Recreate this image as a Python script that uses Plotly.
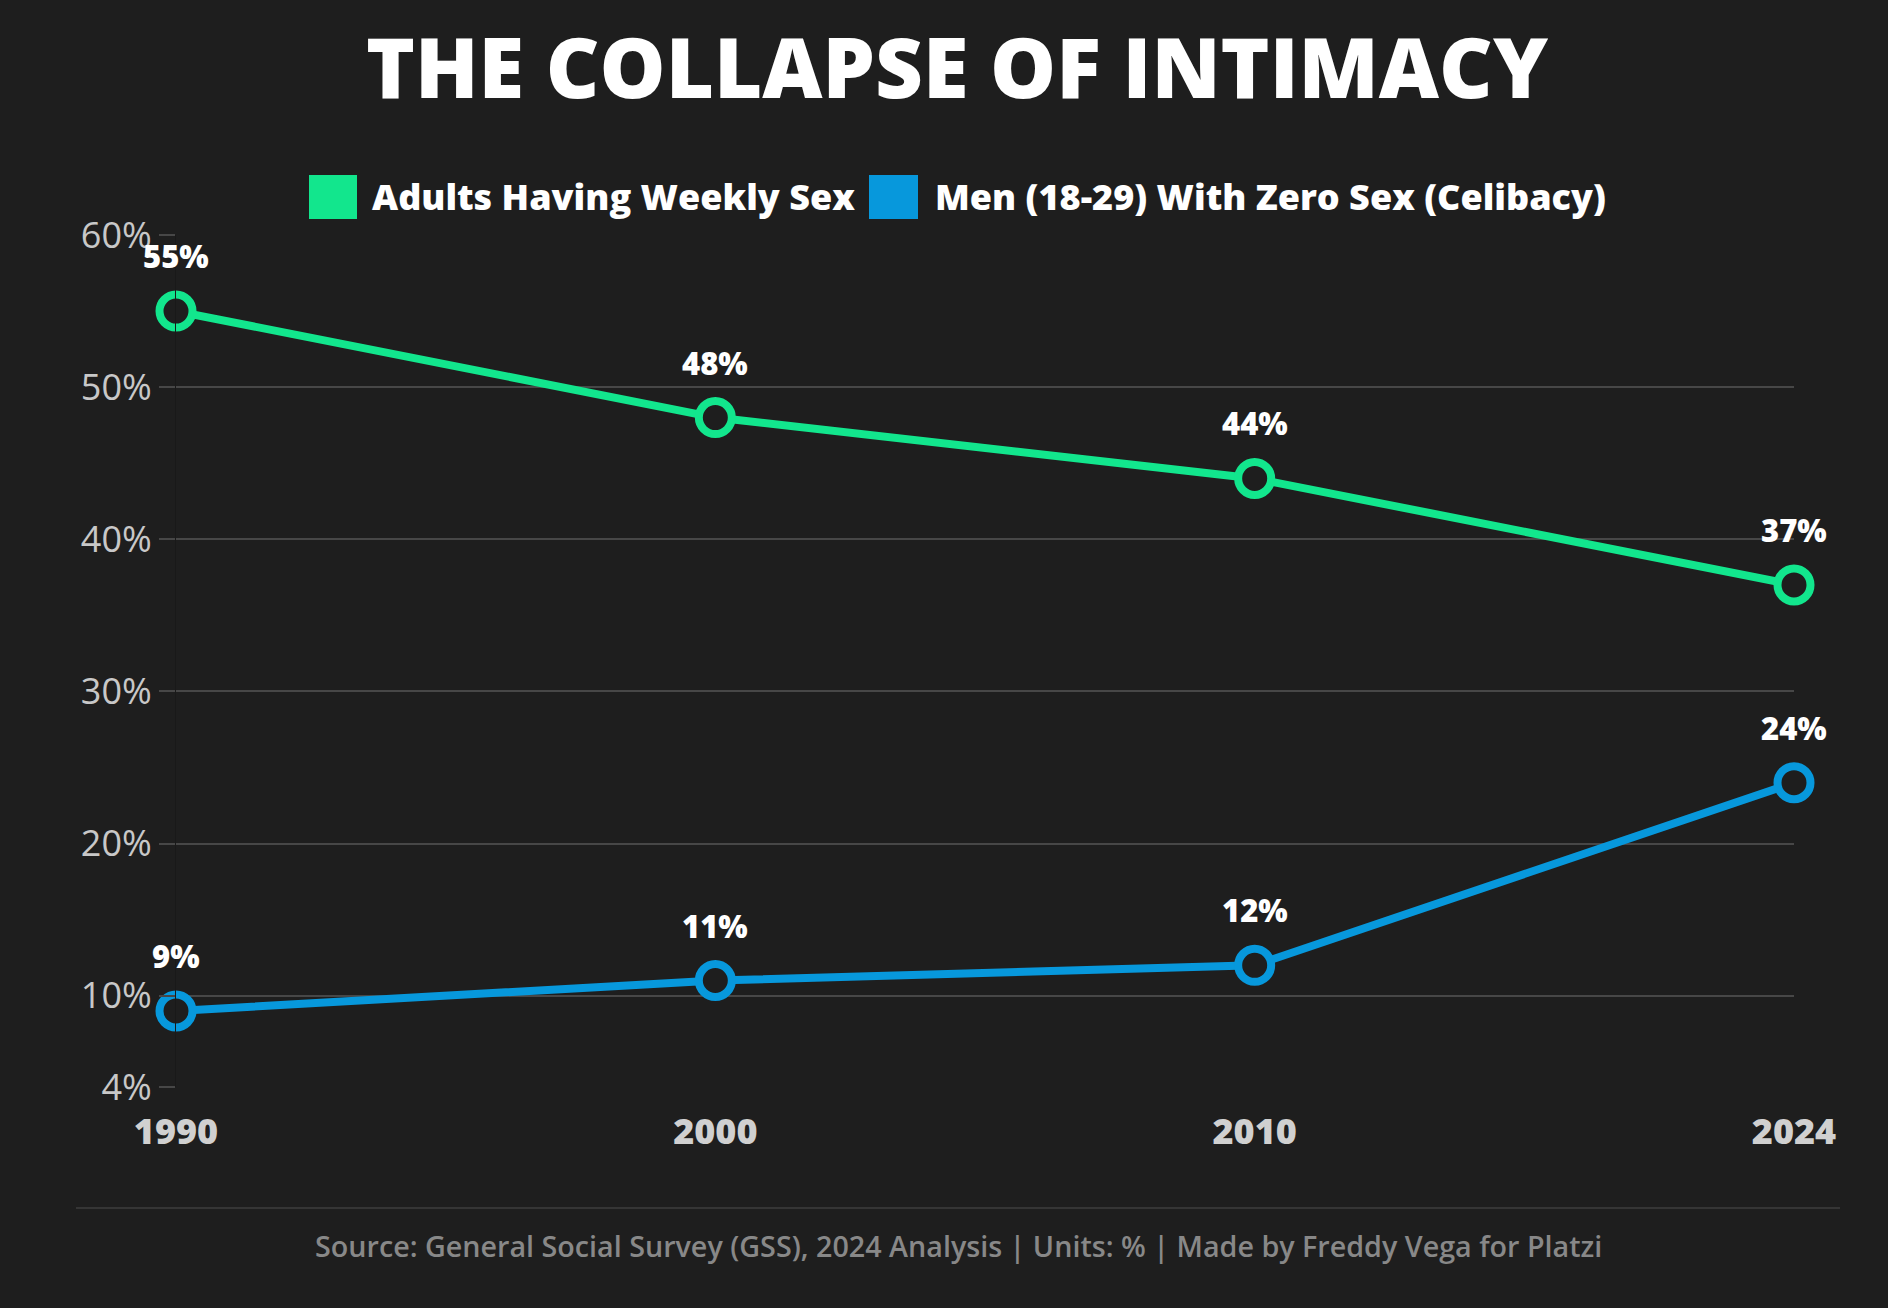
import plotly.graph_objects as go

# ---- data ----
years = ["1990", "2000", "2010", "2024"]
weekly_sex = [55, 48, 44, 37]
celibacy_men = [9, 11, 12, 24]
series_names = ["Adults Having Weekly Sex", "Men (18-29) With Zero Sex (Celibacy)"]
series_colors = ["#12E68D", "#0798DC"]
y_ticks = [4, 10, 20, 30, 40, 50, 60]
y_tick_text = ["4%", "10%", "20%", "30%", "40%", "50%", "60%"]

title_text = "THE COLLAPSE OF INTIMACY"
footer_text = "Source: General Social Survey (GSS), 2024 Analysis | Units: % | Made by Freddy Vega for Platzi"

W, H = 1888, 1308
PL, PR, PT, PB = 176, 94, 235, 221
plot_w = W - PL - PR
plot_h = H - PT - PB


def px_x(x):
    return (x - PL) / plot_w


def px_y(y):
    return (H - PB - y) / plot_h


BG = "#1E1E1E"
FONT = "Open Sans"

fig = go.Figure()
for vals, name, col in zip([weekly_sex, celibacy_men], series_names, series_colors):
    fig.add_trace(go.Scatter(
        x=years, y=vals, name=name, mode="lines+markers",
        line=dict(color=col, width=8),
        marker=dict(size=33, color=BG, line=dict(color=col, width=8)),
        showlegend=False, cliponaxis=False,
    ))
    for i, yv in enumerate(vals):
        fig.add_annotation(
            x=i, y=yv, xref="x", yref="y", text=f"{yv}%", showarrow=False, yshift=55,
            font=dict(family=FONT, size=31, color="#FFFFFF", weight=800),
        )

# custom legend (square swatches)
legend_items = [(309, 357, 370), (869, 918, 933)]
for (sx0, sx1, tx), name, col in zip(legend_items, series_names, series_colors):
    fig.add_shape(type="rect", xref="paper", yref="paper",
                  x0=px_x(sx0), x1=px_x(sx1), y0=px_y(219), y1=px_y(175),
                  fillcolor=col, line=dict(width=0))
    fig.add_annotation(xref="paper", yref="paper", x=px_x(tx), y=px_y(197),
                       xanchor="left", yanchor="middle", text=name, showarrow=False,
                       font=dict(family=FONT, size=36, color="#FFFFFF", weight=800))

# footer separator and source
fig.add_shape(type="line", xref="paper", yref="paper",
              x0=px_x(76), x1=px_x(1840), y0=px_y(1208), y1=px_y(1208),
              line=dict(color="#353535", width=2))
fig.add_annotation(xref="paper", yref="paper", x=px_x(958), y=px_y(1245),
                   xanchor="center", yanchor="middle", text=footer_text, showarrow=False,
                   font=dict(family=FONT, size=28.7, color="#888888", weight=600))

fig.update_layout(
    width=W, height=H,
    paper_bgcolor=BG, plot_bgcolor=BG,
    margin=dict(l=PL, r=PR, t=PT, b=PB),
    title=dict(text=title_text, x=957 / W, xanchor="center", y=1 - 69 / H, yanchor="middle",
               font=dict(family=FONT, size=83, color="#FFFFFF", weight=800)),
    font=dict(family=FONT),
    showlegend=False,
)
fig.update_xaxes(
    type="category", range=[0, 3], showgrid=False, zeroline=False,
    showline=False, ticks="", ticklabelstandoff=20,
    tickfont=dict(family=FONT, size=36, color="#D0D0D0", weight=800),
)
fig.update_yaxes(
    range=[4, 60], tickvals=y_ticks, ticktext=y_tick_text,
    showgrid=True, gridcolor="#474747", gridwidth=1.5, zeroline=False,
    ticks="outside", ticklen=16, tickcolor="#474747", tickwidth=1.5,
    showline=True, linecolor="#191919", linewidth=1,
    tickfont=dict(family=FONT, size=36, color="#C8C8C8"),
)

fig.write_html(
    "out.html",
    config={"displayModeBar": False},
    post_script="document.body.style.margin='0';document.body.style.background='#1E1E1E';",
)
